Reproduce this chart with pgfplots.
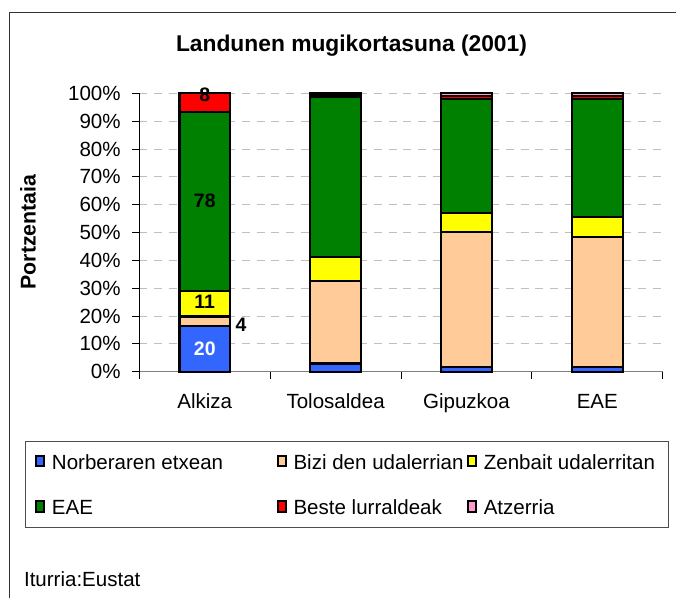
\documentclass[border=0pt]{standalone}
\usepackage{fontspec}
\setmainfont{Liberation Sans}
\usepackage{pgfplots}
\pgfplotsset{compat=1.18}
\definecolor{cBlue}{HTML}{3366FF}
\definecolor{cPeach}{HTML}{FFCC99}
\definecolor{cYellow}{HTML}{FFFF00}
\definecolor{cGreen}{HTML}{008000}
\definecolor{cRed}{HTML}{FF0000}
\definecolor{cPink}{HTML}{FF99CC}
\newcommand\nf{\fontsize{15.4}{18}\selectfont}
\newcommand\lf{\fontsize{15.4}{18}\selectfont}
\pgfplotsset{ybar legend/.style={/pgfplots/legend image code/.code={\draw[##1, draw=black, line width=0.75pt] (0pt,-4.875pt) rectangle (9.75pt,4.875pt);}}}
\begin{document}
\begin{tikzpicture}
\useasboundingbox (0,0) rectangle (507pt,448.5pt);
\draw[black!80, line width=0.75pt] (6.75pt,0) -- (6.75pt,438.75pt) -- (507pt,438.75pt);
\node[font=\bfseries\fontsize{17.1}{20}\selectfont] at (263.6pt,414pt) {Landunen mugikortasuna (2001)};
\node[rotate=90, font=\bfseries\fontsize{16}{19}\selectfont] at (21pt,274.5pt) {Portzentaia};
\node[anchor=base west, font=\nf] at (14.5pt,8.25pt) {Iturria:Eustat};
\draw[black!70, line width=0.75pt] (19.3pt,53pt) rectangle (501.2pt,117.2pt);
\begin{axis}[
  at={(104.5pt,169.7pt)}, anchor=south west,
  scale only axis, width=392.55pt, height=208.8pt,
  xmin=-0.5, xmax=3.5, ymin=0, ymax=100,
  ybar stacked, bar width=38pt,
  clip=false,
  axis x line*=bottom, axis y line*=left,
  x axis line style={black!50, line width=0.75pt},
  y axis line style={black, line width=0.75pt},
  tick align=outside,
  major tick length=5.25pt,
  xtick={-0.5,0.5,1.5,2.5,3.5},
  x tick label as interval,
  xticklabels={Alkiza,Tolosaldea,Gipuzkoa,EAE},
  ytick={0,10,...,100},
  yticklabels={0\%,10\%,20\%,30\%,40\%,50\%,60\%,70\%,80\%,90\%,100\%},
  ymajorgrids,
  grid style={black!25, dash pattern=on 6pt off 5pt, line width=0.75pt},
  tick style={black, line width=0.75pt},
  ticklabel style={font=\nf},
  yticklabel style={xshift=-5.25pt},
  xticklabel style={yshift=-8pt},
  every axis plot/.append style={draw=black, line width=1.7pt},
  legend columns=3,
  legend style={at={(-0.19934,-0.2955)}, anchor=north west, draw=none, fill=none,
    inner sep=0pt, outer sep=0pt, column sep=0pt, row sep=19.5pt,
    nodes={inner sep=0pt, text height=11.5pt, text depth=3pt, font=\lf},
    cells={anchor=west}},
]
\addplot[fill=cBlue] coordinates {(0,16.53) (1,3.0) (2,1.8) (3,1.6)};
\addlegendentry{\makebox[173.5pt][l]{\hspace{5pt}Norberaren etxean}}
\addplot[fill=cPeach] coordinates {(0,3.31) (1,29.6) (2,48.3) (3,46.9)};
\addlegendentry{\makebox[135pt][l]{\hspace{5pt}Bizi den udalerrian}}
\addplot[fill=cYellow] coordinates {(0,9.09) (1,8.5) (2,6.8) (3,7.0)};
\addlegendentry{\hspace{5pt}Zenbait udalerritan}
\addplot[fill=cGreen] coordinates {(0,64.46) (1,57.7) (2,41.05) (3,42.45)};
\addlegendentry{\hspace{5pt}EAE}
\addplot[fill=cRed] coordinates {(0,6.61) (1,0.6) (2,1.1) (3,1.1)};
\addlegendentry{\hspace{5pt}Beste lurraldeak}
\addplot[fill=cPink] coordinates {(0,0) (1,0.6) (2,0.95) (3,0.95)};
\addlegendentry{\hspace{5pt}Atzerria}
\end{axis}
\begin{axis}[
  at={(104.5pt,169.7pt)}, anchor=south west,
  scale only axis, width=392.55pt, height=208.8pt,
  xmin=-0.5, xmax=3.5, ymin=0, ymax=100,
  hide axis, clip=false,
  point meta=explicit symbolic,
  every node near coord/.style={anchor=center, inner sep=0pt, font=\bfseries\fontsize{14.6}{16}\selectfont},
]
\addplot[draw=none, only marks, mark=*, mark size=0pt, mark options={draw=none,fill=none}, nodes near coords, every node near coord/.append style={text=white}] coordinates {(0,8.2) [20]};
\addplot[draw=none, only marks, mark=*, mark size=0pt, mark options={draw=none,fill=none}, nodes near coords] coordinates {(0.277,16.8) [4] (0,25.0) [11] (0,61.4) [78] (0,99.3) [8]};
\end{axis}
\end{tikzpicture}
\end{document}
